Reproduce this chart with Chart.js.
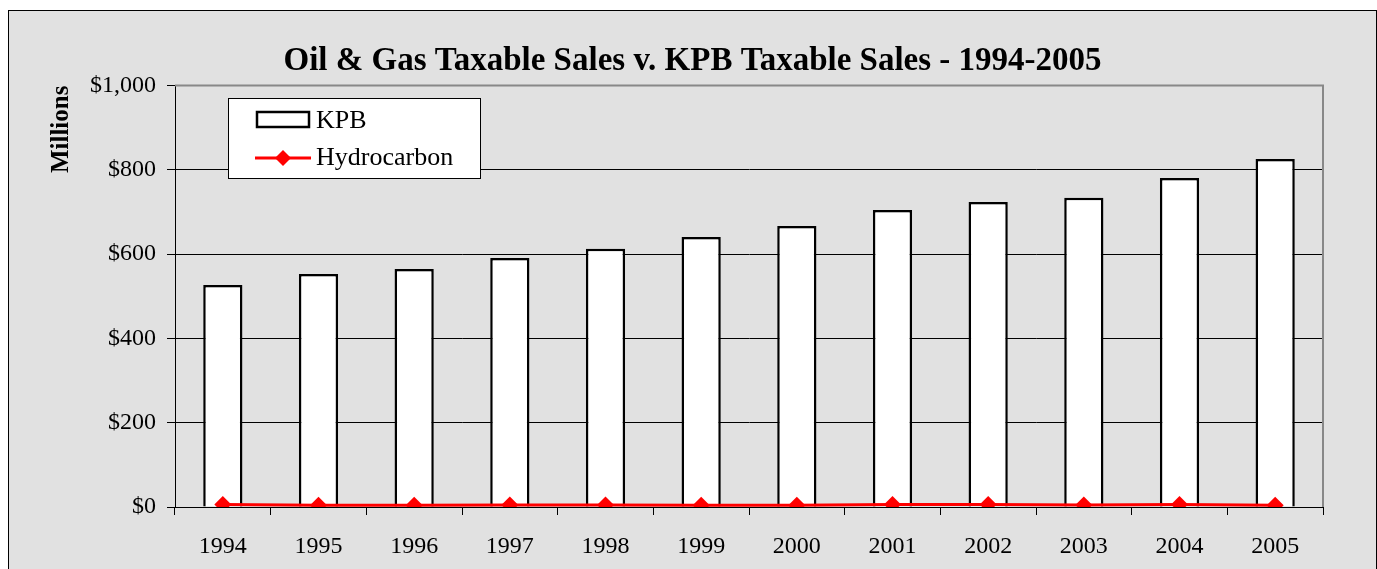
<!DOCTYPE html>
<html>
<head>
<meta charset="utf-8">
<script src="https://cdn.jsdelivr.net/npm/chart.js@4"></script>
<style>
  html, body { margin: 0; padding: 0; background: #fff; }
  #frame {
    position: absolute; left: 8px; top: 10px;
    width: 1369px; height: 570px; box-sizing: border-box;
    border: 1px solid #000; background: #e1e1e1;
  }
  canvas { display: block; }
</style>
</head>
<body>
<div id="frame"><canvas id="chart" width="1367" height="568"></canvas></div>
<script>
const years = ["1994", "1995", "1996", "1997", "1998", "1999", "2000", "2001", "2002", "2003", "2004", "2005"];
const kpbSales = [527, 553, 565, 591, 613, 641, 667, 705, 724, 734, 781, 826];
const hydrocarbonSales = [6, 4, 4, 5, 5, 4, 4, 6, 6, 5, 6, 4];
const yTicks = [0, 200, 400, 600, 800, 1000];

const serif = "'Liberation Serif', 'Times New Roman', serif";

// gray frame on top and right of plot area, plus the boxed legend
const plotDecor = {
    id: "plotDecor",
    afterDraw(chart) {
        const ctx = chart.ctx;
        const a = chart.chartArea;
        ctx.save();
        ctx.strokeStyle = "#888";
        ctx.lineWidth = 2;
        ctx.beginPath();
        ctx.moveTo(a.left, a.top);
        ctx.lineTo(a.right, a.top);
        ctx.lineTo(a.right, a.bottom);
        ctx.stroke();

        // legend box
        const lx = 219.5, ly = 87.5, lw = 252, lh = 80;
        ctx.fillStyle = "#fff";
        ctx.fillRect(lx, ly, lw, lh);
        ctx.strokeStyle = "#000";
        ctx.lineWidth = 1;
        ctx.strokeRect(lx, ly, lw, lh);

        const ds = chart.data.datasets;
        ctx.font = "26px " + serif;
        ctx.fillStyle = "#000";
        ctx.textBaseline = "middle";
        ctx.textAlign = "left";

        // bar swatch
        ctx.lineWidth = 2.5;
        ctx.strokeRect(248, 101, 52, 15);
        ctx.fillText(ds[1].label, 307, 110);

        // line swatch
        ctx.strokeStyle = "red";
        ctx.lineWidth = 3;
        ctx.beginPath();
        ctx.moveTo(246, 147);
        ctx.lineTo(302, 147);
        ctx.stroke();
        ctx.fillStyle = "red";
        ctx.beginPath();
        ctx.moveTo(274, 139);
        ctx.lineTo(282, 147);
        ctx.lineTo(274, 155);
        ctx.lineTo(266, 147);
        ctx.closePath();
        ctx.fill();
        ctx.fillStyle = "#000";
        ctx.fillText(ds[0].label, 307, 147);
        ctx.restore();
    }
};

new Chart("chart", {
    type: "bar",
    data: {
        labels: years,
        datasets: [{
            type: "line",
            label: "Hydrocarbon",
            data: hydrocarbonSales,
            borderColor: "red",
            borderWidth: 3,
            backgroundColor: "red",
            pointStyle: "rectRot",
            pointRadius: 8.5,
            pointBackgroundColor: "red",
            pointBorderWidth: 0,
            order: 0,
        }, {
            label: "KPB",
            data: kpbSales,
            backgroundColor: "#fff",
            borderColor: "#000",
            borderWidth: 2.5,
            barPercentage: 0.41,
            categoryPercentage: 1,
            order: 1,
        }],
    },
    options: {
        responsive: false,
        animation: false,
        layout: { padding: { left: 53, right: 53, top: 0, bottom: 0 } },
        plugins: {
            legend: { display: false },
            tooltip: { enabled: false },
            title: {
                display: true,
                text: "Oil & Gas Taxable Sales v. KPB Taxable Sales - 1994-2005",
                color: "#000",
                font: { family: serif, size: 33, weight: "bold" },
                padding: { top: 31, bottom: 4 },
            },
        },
        scales: {
            x: {
                offset: true,
                grid: {
                    offset: true,
                    drawOnChartArea: false,
                    drawTicks: true,
                    tickLength: 8,
                    color: "#000",
                },
                border: { color: "#000", width: 1 },
                ticks: {
                    color: "#000",
                    padding: 17,
                    maxRotation: 0,
                    font: { family: serif, size: 24 },
                },
                afterFit(scale) { scale.height = 72; },
            },
            y: {
                min: 0,
                max: 1000,
                afterBuildTicks(scale) { scale.ticks = yTicks.map(v => ({ value: v })); },
                grid: {
                    color: "#000",
                    lineWidth: 1,
                    tickLength: 8,
                },
                border: { color: "#000", width: 1 },
                ticks: {
                    color: "#000",
                    padding: 11,
                    font: { family: serif, size: 24 },
                    callback: v => "$" + v.toLocaleString("en-US"),
                },
                title: {
                    display: true,
                    text: "Millions",
                    align: "end",
                    color: "#000",
                    font: { family: serif, size: 25, weight: "bold" },
                    padding: { top: -15, bottom: 0 },
                },
                afterFit(scale) { scale.width = 113; },
            },
        },
    },
    plugins: [plotDecor],
});
</script>
</body>
</html>
